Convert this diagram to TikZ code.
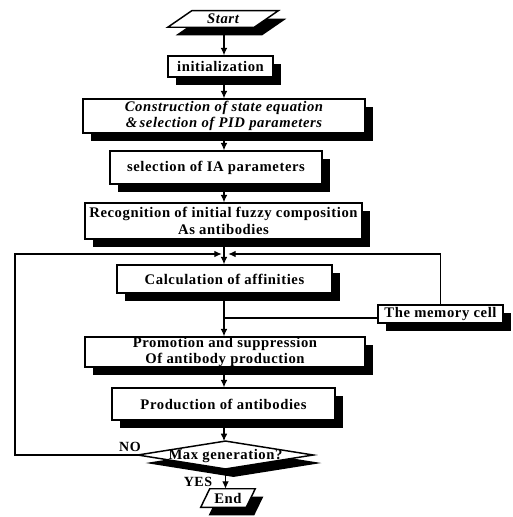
\documentclass[tikz,border=0pt]{standalone}
\usepackage{fontspec}
\setmainfont{Liberation Serif}[LetterSpace=4]
\usetikzlibrary{shadows,arrows.meta,calc}
\begin{document}
\begin{tikzpicture}[x=0.75pt,y=-0.75pt,
  sh/.style={drop shadow={shadow xshift=6pt,shadow yshift=-6pt,opacity=1,fill=black}},
  box/.style={draw,fill=white,line width=1.1pt,sh,align=center,inner sep=0pt,
    font=\bfseries\fontsize{11}{12.5}\selectfont},
  shapebox/.style={draw,fill=white,line width=1.1pt,sh},
  txt/.style={inner sep=0pt,align=center,font=\bfseries\fontsize{11}{12.5}\selectfont},
  lbl/.style={inner sep=0pt,font=\bfseries\fontsize{10.5}{12}\selectfont},
  arr/.style={line width=0.8pt,-{Latex[length=5.5pt,width=5pt]}},
  ln/.style={line width=0.8pt}]
\useasboundingbox (0,0) rectangle (513,517);
% coordinates for the flow line and loop
\coordinate (fx) at (224,0);
\coordinate (lx) at (15,0);
\coordinate (jn) at (225,254);
% Start
\node[txt,minimum width=82.5pt,minimum height=12pt] (start) at (223,19) {};
\path[shapebox] ([xshift=18pt]start.north west) -- (start.north east) -- ([xshift=-18pt]start.south east) -- (start.south west) -- cycle;
\node[txt,font=\bfseries\itshape\fontsize{11}{12.5}\selectfont] at (start) {Start};
% boxes
\node[box,minimum width=78.75pt,minimum height=15.75pt] (init) at (220.5,66.5) {initialization};
\node[box,minimum width=211.5pt,minimum height=25.5pt,font=\bfseries\itshape\fontsize{11}{12.5}\selectfont] (constr) at (224,116) {Construction of state equation\\\&\,selection of PID parameters};
\node[box,minimum width=159pt,minimum height=24.75pt] (ia) at (216,167.5) {selection of IA parameters};
\node[box,minimum width=207.75pt,minimum height=27pt] (recog) at (223.5,221) {Recognition of initial fuzzy composition\\As antibodies};
\node[box,minimum width=161.25pt,minimum height=21pt] (calc) at (224.5,279) {Calculation of affinities};
\node[box,minimum width=93.75pt,minimum height=13.5pt] (mem) at (440.5,314) {The memory cell};
\node[box,minimum width=210pt,minimum height=22.5pt] (promo) at (225,352) {Promotion and suppression\\Of antibody production};
\node[box,minimum width=167.25pt,minimum height=24pt] (prod) at (223.5,404) {Production of antibodies};
% decision
\node[txt,minimum width=131.25pt,minimum height=20.5pt] (dec) at (225.5,455) {};
\path[shapebox] (dec.west) -- (dec.north) -- (dec.east) -- (dec.south) -- cycle;
\node[txt] at ([yshift=-0.5pt]dec.center) {Max generation?};
% End
\node[txt,minimum width=40.5pt,minimum height=13.5pt] (endn) at (228,498) {};
\path[shapebox] ([xshift=6.75pt]endn.north west) -- (endn.north east) -- ([xshift=-6.75pt]endn.south east) -- (endn.south west) -- cycle;
\node[txt] at (endn) {End};
% labels
\node[lbl] (no) at (130,447) {NO};
\node[lbl] (yes) at (198,482) {YES};
% connectors
\draw[arr] (start.south -| fx) -- (init.north -| fx);
\draw[arr] (init.south -| fx) -- (constr.north -| fx);
\draw[arr] (constr.south -| fx) -- (ia.north -| fx);
\draw[arr] (ia.south -| fx) -- (recog.north -| fx);
\draw[arr] (recog.south -| fx) -- (calc.north -| fx);
\draw[arr] (dec.west) -- (dec.west -| lx) |- ([xshift=-2.5pt]jn);
\draw[arr] (mem.north) |- ([xshift=2.5pt]jn);
\draw[ln] ([yshift=-3pt]mem.west) -- ([yshift=-3pt]mem.west -| fx);
\draw[arr] (calc.south -| fx) -- (promo.north -| fx);
\draw[arr] (promo.south -| fx) -- (prod.north -| fx);
\draw[arr] (prod.south -| fx) -- (dec.north -| fx);
\draw[arr] (dec.south) -- (endn.north -| dec.south);
\end{tikzpicture}
\end{document}
